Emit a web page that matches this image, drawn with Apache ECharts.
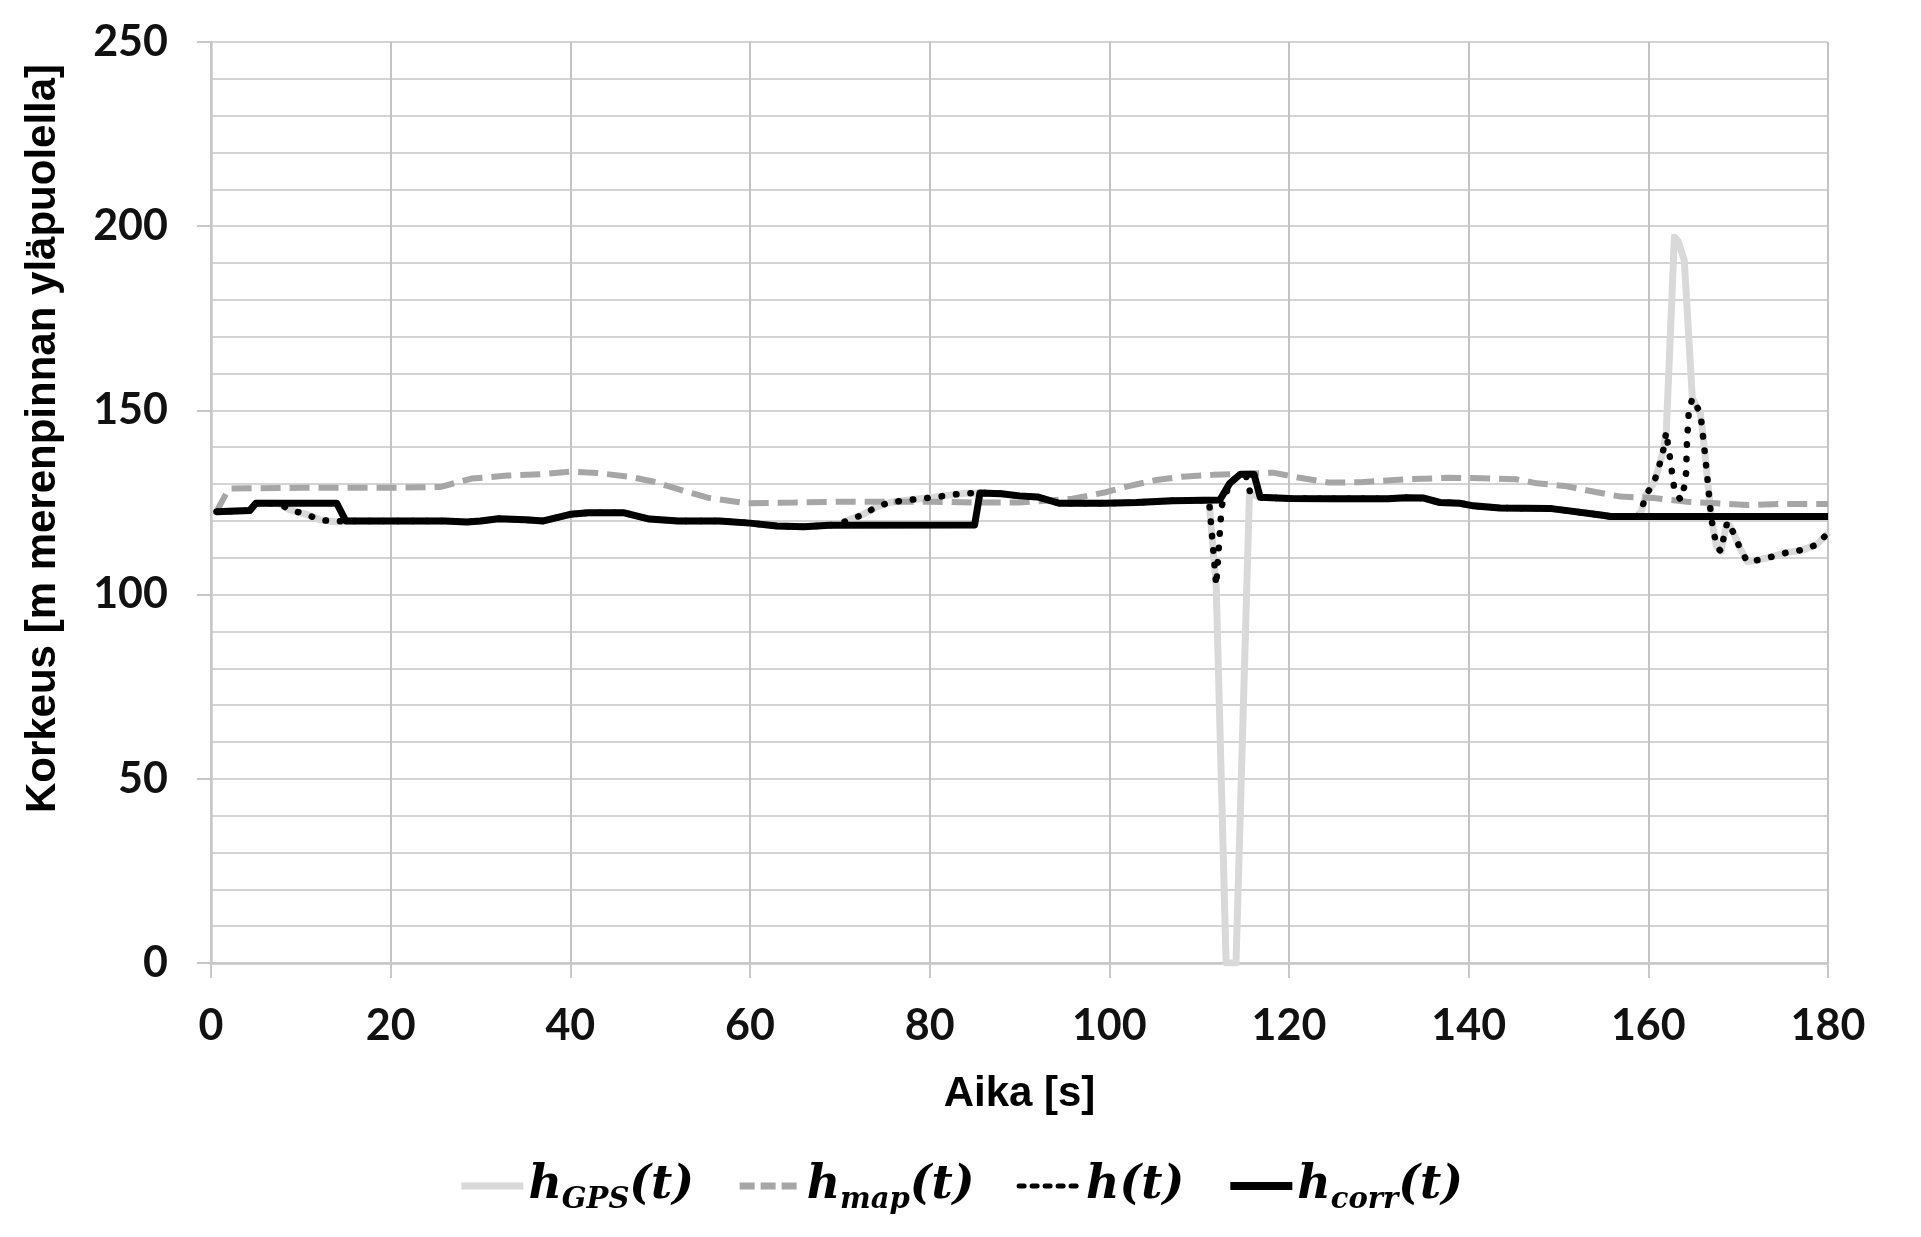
<!DOCTYPE html>
<html>
<head>
<meta charset="utf-8">
<script src="https://cdn.jsdelivr.net/npm/echarts@6/dist/echarts.min.js"></script>
<style>
html,body{margin:0;padding:0;background:#fff;}
#chart{width:1921px;height:1237px;}
</style>
</head>
<body>
<div id="chart"></div>
<script>
// Tick labels / axis
const xTicks = [0, 20, 40, 60, 80, 100, 120, 140, 160, 180];
const yTicks = [0, 50, 100, 150, 200, 250];
const seriesNames = ['hGPS', 'hmap', 'h', 'hcorr'];

// [time (s), altitude (m)]
const hGPS = [
[0.6,122.5],[4.3,122.8],[5,124.8],[7.5,124.8],[8.8,123],[10.6,121.8],[12.1,120.3],[13.8,119.8],[15,120],[26,120],[28.5,119.7],[30,120],[32,120.6],[35,120.3],[37,120],[40,121.8],[42,122.2],[46,122.2],[48.8,120.5],[52,120],[56.6,120],[60,119.4],[63,118.6],[66,118.4],[68.8,118.8],[70,119.2],[71,120.3],[72.5,121.6],[74,123.7],[75.5,125],[77,125.5],[78.9,126],[80.4,126.4],[82.2,127],[83.9,127.5],[85.6,127.6],[88,127.4],[90,126.8],[92,126.5],[94.4,124.8],[99.6,124.8],[103,125],[107,125.5],[111.1,125.6],[111.9,102],[113,0],[114.1,0],[115.6,127.5],[116.8,126.4],[120,126.1],[125,126],[131,126],[133,126.3],[135,126.2],[136.8,125],[139,124.8],[140.5,124.1],[143.5,123.5],[149,123.4],[151,122.8],[154.7,121.6],[155.8,121.2],[158.7,121.2],[159.2,122.5],[159.7,127],[160.6,130.2],[161.1,134],[161.6,138.4],[162,144.2],[162.9,197],[163.3,196],[164,190.8],[164.9,153.3],[165.8,149.2],[166.2,140.6],[166.6,131],[167,120.8],[167.6,113],[168.1,111.7],[168.4,115.7],[168.8,119.8],[169.5,116.7],[170.2,112.6],[171,109],[172.3,109.4],[173.8,110.3],[175.4,111.4],[177.1,112.1],[178.7,113.5],[179.8,116.2],[180,116.8]
];
const hMap = [
[0.6,122.5],[2,128.8],[10,129],[20,129],[25.5,129.2],[29,131.5],[33,132.3],[37,132.7],[40,133.4],[43,133],[46.6,132],[49.2,130.7],[52.9,128],[55.5,126.2],[59.6,124.8],[65,125],[70,125.2],[80,125.2],[85,125],[90,125],[95.9,126],[99.6,127.8],[101.9,129.3],[105.2,131.1],[108.1,132],[111.5,132.5],[115,132.8],[118.2,133.1],[121,131.8],[124.5,130.4],[128,130.5],[133,131.3],[137.8,131.7],[141.5,131.6],[145.3,131.3],[147.6,130.2],[150.7,129.5],[154,127.9],[156.9,126.6],[160.6,126.2],[164.3,125.2],[167.6,124.8],[171,124.3],[175,124.6],[180,124.6]
];
const hT = [
[0.6,122.5],[4.3,122.8],[5,124.8],[7.5,124.8],[8.8,123],[10.6,121.8],[12.1,120.3],[13.8,119.8],[15,120],[26,120],[28.5,119.7],[30,120],[32,120.6],[35,120.3],[37,120],[40,121.8],[42,122.2],[46,122.2],[48.8,120.5],[52,120],[56.6,120],[60,119.4],[63,118.6],[66,118.4],[68.8,118.8],[70,119.2],[71,120.3],[72.5,121.6],[74,123.7],[75.5,125],[77,125.5],[78.9,126],[80.4,126.4],[82.2,127],[83.9,127.5],[85.6,127.6],[88,127.4],[90,126.8],[92,126.5],[94.4,124.8],[99.6,124.8],[103,125],[107,125.5],[111.1,125.6],[111.9,102.5],[112.5,124],[113.4,130.2],[114.6,132.7],[115.2,132.3],[115.7,127.5],[116.8,126.4],[120,126.1],[125,126],[131,126],[133,126.3],[135,126.2],[136.8,125],[139,124.8],[140.5,124.1],[143.5,123.5],[149,123.4],[151,122.8],[154.7,121.6],[155.8,121.2],[158.7,121.2],[159.2,122.5],[159.7,127],[160.6,130.2],[161.1,134],[161.6,138.4],[162,144.2],[162.2,140.5],[162.5,135.6],[162.9,128.4],[163.6,125.7],[164,129.3],[164.2,133],[164.3,141],[164.5,149.6],[164.9,153.3],[165.8,149.2],[166.2,140.6],[166.6,131],[167,120.8],[167.6,113],[168.1,111.7],[168.4,115.7],[168.8,119.8],[169.5,116.7],[170.2,112.6],[171,109],[172.3,109.4],[173.8,110.3],[175.4,111.4],[177.1,112.1],[178.7,113.5],[179.8,116.2],[180,116.8]
];
const hCorr = [
[0.6,122.5],[4.3,122.8],[5,124.8],[14,124.8],[15,120],[26,120],[28.5,119.7],[30,120],[32,120.6],[35,120.3],[37,120],[40,121.8],[42,122.2],[46,122.2],[48.8,120.5],[52,120],[56.6,120],[60,119.4],[63,118.6],[66,118.4],[68.8,118.8],[85,118.9],[85.6,127.6],[88,127.4],[90,126.8],[92,126.5],[94.4,124.8],[99.6,124.8],[103,125],[107,125.5],[112.3,125.7],[113.4,130.2],[114.6,132.7],[116.1,132.7],[116.8,126.4],[120,126.1],[125,126],[131,126],[133,126.3],[135,126.2],[136.8,125],[139,124.8],[140.5,124.1],[143.5,123.5],[149,123.4],[151,122.8],[154.7,121.6],[155.8,121.2],[180,121.2]
];

const legendLabels = {
  hGPS: '{m|h}{s|GPS}{m|(t)}',
  hmap: '{m|h}{s|map}{m|(t)}',
  h: '{m|h(t)}',
  hcorr: '{m|h}{s|corr}{m|(t)}'
};

const styles = {
  hGPS: {color: '#d9d9d9', width: 7, join: 'round'},
  hmap: {color: '#a6a6a6', width: 6, type: [20, 9]},
  h: {color: '#000', width: 6.5, type: [0.5, 14], cap: 'round'},
  hcorr: {color: '#000', width: 7, join: 'round'}
};
const legendStyles = {
  hGPS: {color: '#d9d9d9', width: 7},
  hmap: {color: '#a6a6a6', width: 7, type: [15, 6]},
  h: {color: '#000', width: 5, type: [5, 8]},
  hcorr: {color: '#000', width: 8}
};

const chart = echarts.init(document.getElementById('chart'), null, {renderer: 'canvas'});
const gridColor = '#d4d4d4';
const tickFont = {fontFamily: 'Lato', fontWeight: 'bold', fontSize: 43, color: '#111'};

chart.setOption({
  animation: false,
  backgroundColor: '#ffffff',
  grid: {left: 211, right: 93, top: 42, bottom: 274, containLabel: false},
  xAxis: {
    type: 'value', min: xTicks[0], max: xTicks[xTicks.length - 1], interval: 20,
    name: 'Aika [s]', nameLocation: 'middle', nameGap: 110,
    nameTextStyle: {fontFamily: 'Liberation Sans', fontWeight: 'bold', fontSize: 42, color: '#000'},
    axisLine: {show: true, lineStyle: {color: '#c8c8c8', width: 2.5}},
    axisTick: {show: true, length: 15, lineStyle: {color: '#c8c8c8', width: 2}},
    axisLabel: Object.assign({margin: 42}, tickFont),
    splitLine: {show: true, lineStyle: {color: '#c4c4c4', width: 2}}
  },
  yAxis: {
    type: 'value', min: yTicks[0], max: yTicks[yTicks.length - 1], interval: 50,
    name: 'Korkeus [m merenpinnan yläpuolella]', nameLocation: 'middle', nameGap: 147, nameRotate: 90,
    nameTextStyle: {fontFamily: 'Liberation Sans', fontWeight: 'bold', fontSize: 42, color: '#000', padding: [0, 0, 0, 128]},
    axisLine: {show: true, lineStyle: {color: '#c8c8c8', width: 2.5}},
    axisTick: {show: true, length: 14, lineStyle: {color: '#c8c8c8', width: 2}},
    axisLabel: Object.assign({margin: 43}, tickFont),
    splitLine: {show: true, lineStyle: {color: gridColor, width: 2}},
    minorTick: {show: false, splitNumber: 5},
    minorSplitLine: {show: true, lineStyle: {color: gridColor, width: 2}}
  },
  legend: {
    top: 1158, left: 'center', itemWidth: 62, itemHeight: 14, itemGap: 42,
    itemStyle: {opacity: 0},
    data: seriesNames.map(function (n) { return {name: n, lineStyle: legendStyles[n], itemStyle: {opacity: 0}}; }),
    formatter: function (name) { return legendLabels[name]; },
    textStyle: {
      rich: {
        m: {fontFamily: 'DejaVu Serif', fontStyle: 'italic', fontWeight: 'bold', fontSize: 46, lineHeight: 58, color: '#000'},
        s: {fontFamily: 'DejaVu Serif', fontStyle: 'italic', fontWeight: 'bold', fontSize: 29, lineHeight: 24, verticalAlign: 'bottom', color: '#000'}
      }
    }
  },
  series: [
    {name: 'hGPS', type: 'line', data: hGPS, symbol: 'none', z: 1, lineStyle: styles.hGPS, itemStyle: {color: '#d9d9d9'}},
    {name: 'hmap', type: 'line', data: hMap, symbol: 'none', z: 2, lineStyle: styles.hmap, itemStyle: {color: '#a6a6a6'}},
    {name: 'h', type: 'line', data: hT, symbol: 'none', z: 3, lineStyle: styles.h, itemStyle: {color: '#000'}},
    {name: 'hcorr', type: 'line', data: hCorr, symbol: 'none', z: 4, lineStyle: styles.hcorr, itemStyle: {color: '#000'}}
  ]
});
</script>
</body>
</html>
